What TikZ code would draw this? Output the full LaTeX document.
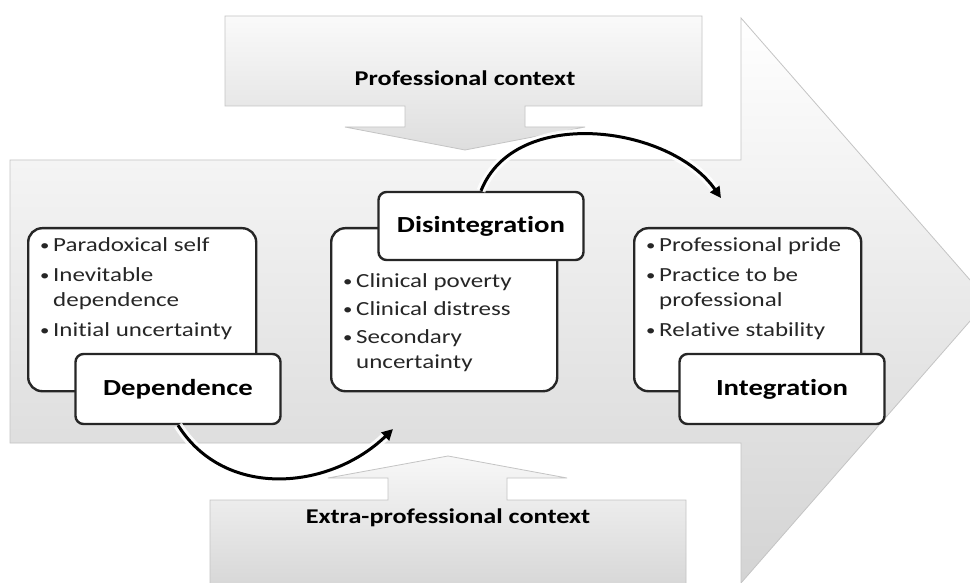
\documentclass[tikz,border=0pt]{standalone}
\usepackage{fontspec}
\setmainfont{Carlito}[FakeStretch=1.25, Ligatures=NoCommon]
\usetikzlibrary{positioning, arrows.meta}

\definecolor{framegray}{HTML}{C4C4C4}
\definecolor{boxline}{HTML}{262626}

\newcommand{\itm}[1]{\par\hangindent=13pt\hangafter=1\noindent\makebox[13pt][l]{\fontsize{15}{15}\selectfont\raisebox{1pt}{\textbullet}}#1}

\tikzstyle{itembox} = [rectangle, rounded corners = 14pt, draw = boxline, line width = 2.4pt, fill = white, inner xsep = 12pt, inner ysep = 0pt, anchor = north west, text = black!85, font = \fontsize{20}{25}\selectfont]
\tikzstyle{stage} = [rectangle, rounded corners = 8pt, draw = boxline, line width = 2.4pt, fill = white, minimum width = 205pt, minimum height = 70pt, font = \fontsize{23}{28}\selectfont\bfseries]
\tikzstyle{context} = [draw = framegray, line width = 0.8pt]
\tikzstyle{curvearrow} = [line width = 3pt, -{Triangle[length = 11pt, width = 11pt]}, preaction = {draw = white, line width = 9pt, opacity = 0.85}]

\begin{document}
\begin{tikzpicture}[x = 1pt, y = -1pt]

    \clip (0,0) rectangle (970,583);
    \fill[white] (0,0) rectangle (970,583);

    % big arrow
    \path[context, top color = white, bottom color = black!17] (10,160) -- (741,160) -- (741,18) -- (988,300.5) -- (741,583) -- (741,443) -- (10,443) -- cycle;
    % professional context
    \path[context, top color = black!2, bottom color = black!13] (225,16) -- (702,16) -- (702,106) -- (525,106) -- (525,127) -- (585,127) -- (465,150) -- (345,127) -- (405,127) -- (405,106) -- (225,106) -- cycle;
    % extra-professional context
    \path[context, top color = black!3, bottom color = black!16] (210,590) -- (210,500) -- (388,500) -- (388,478) -- (328,478) -- (448,456) -- (567,478) -- (507,478) -- (507,500) -- (686,500) -- (686,590);

    \node(prof)[font = \fontsize{21}{25}\selectfont\bfseries] at (465,78) {Professional context};
    \node(extra)[font = \fontsize{21}{25}\selectfont\bfseries] at (448,518) {Extra-professional context};

    \node(depbox)[itembox] at (27,227) {\parbox[t][163pt][t]{204pt}{\vspace*{9pt}%
        \itm{Paradoxical self}\par\vspace{5pt}
        \itm{Inevitable\\dependence}\par\vspace{5pt}
        \itm{Initial uncertainty}}};
    \node(disbox)[itembox] at (330,227) {\parbox[t][163pt][t]{202pt}{\vspace*{45pt}%
        \itm{Clinical poverty}\par\vspace{3pt}
        \itm{Clinical distress}\par\vspace{3pt}
        \itm{Secondary\\uncertainty}}};
    \node(intbox)[itembox] at (633,227) {\parbox[t][163pt][t]{203pt}{\vspace*{9pt}%
        \itm{Professional pride}\par\vspace{5pt}
        \itm{Practice to be\\professional}\par\vspace{5pt}
        \itm{Relative stability}}};

    \node(deplab)[stage] at (178,389) {Dependence};
    \node(dislab)[stage, minimum height = 68pt] at (481,226) {Disintegration};
    \node(intlab)[stage] at (782,389) {Integration};

    \coordinate(depend) at (393,429);
    \coordinate(disend) at (721,198);

    \draw[curvearrow](deplab.south) .. controls (225,500) and (330,490) .. (depend);
    \draw[curvearrow](dislab.north) .. controls (515,105) and (670,125) .. (disend);

\end{tikzpicture}
\end{document}
